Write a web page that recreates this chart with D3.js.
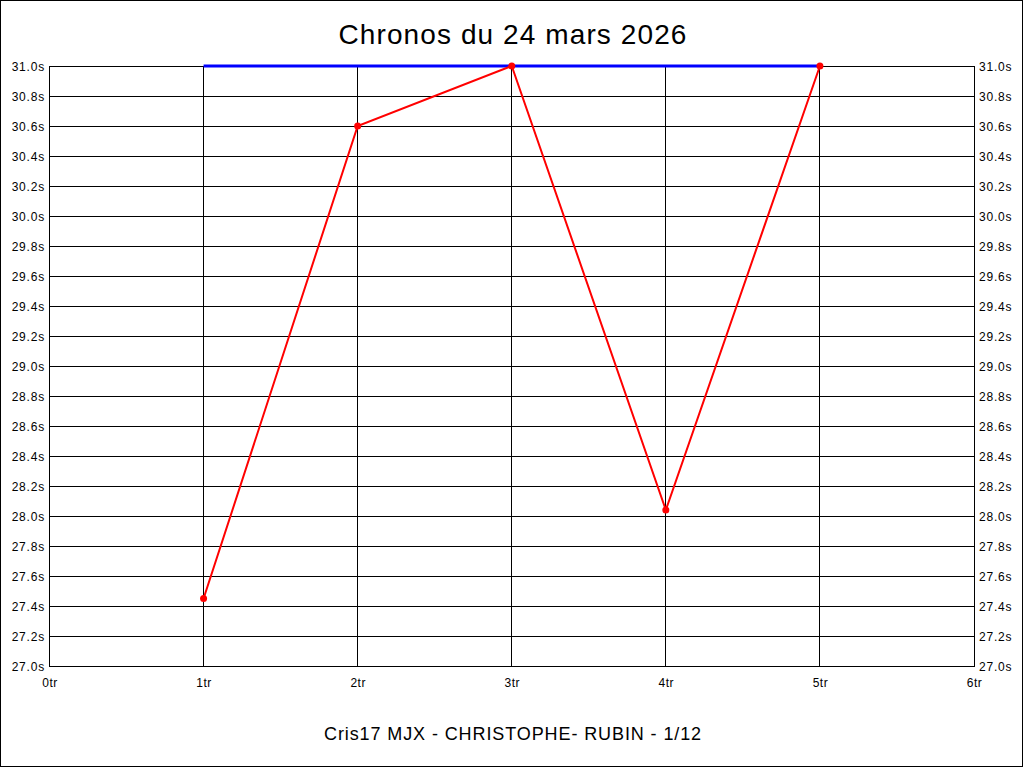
<!DOCTYPE html>
<html><head><meta charset="utf-8">
<script src="https://cdn.jsdelivr.net/npm/d3@7"></script>
<style>body{margin:0;background:#fff}svg{display:block}text{font-family:"Liberation Sans",Arial,sans-serif}</style>
</head><body>
<script>
const title = "Chronos du 24 mars 2026";
const footer = "Cris17 MJX - CHRISTOPHE- RUBIN - 1/12";
const laps = [1, 2, 3, 4, 5];
const times = [27.45, 30.6, 31.0, 28.04, 31.0];
const bestLine = [{lap:1, t:31.0}, {lap:5, t:31.0}];
const xTicks = [0,1,2,3,4,5,6];
const yTicks = d3.range(0, 21).map(i => +(27 + i*0.2).toFixed(1));

const W = 1024, H = 768;
const svg = d3.select("body").append("svg").attr("width", W).attr("height", H);
svg.append("rect").attr("x",0.5).attr("y",0.5).attr("width",1022).attr("height",766)
  .attr("fill","#fff").attr("stroke","#000");

const x = d3.scaleLinear().domain([0,6]).range([49.5, 974]);
const y = d3.scaleLinear().domain([27,31]).range([666, 66]);

const g = svg.append("g");
g.selectAll(".hg").data(yTicks).join("line")
  .attr("x1", x(0)).attr("x2", x(6))
  .attr("y1", d => Math.round(y(d))+0.5).attr("y2", d => Math.round(y(d))+0.5)
  .attr("stroke","#000").attr("stroke-width",1);
g.selectAll(".vg").data(xTicks).join("line")
  .attr("x1", d => Math.floor(x(d))+0.5).attr("x2", d => Math.floor(x(d))+0.5)
  .attr("y1", y(31)).attr("y2", y(27)+1)
  .attr("stroke","#000").attr("stroke-width",1);

const axL = d3.axisLeft(y).tickValues(yTicks).tickSize(0).tickPadding(4).tickFormat(d => d.toFixed(1)+"s");
const axR = d3.axisRight(y).tickValues(yTicks).tickSize(0).tickPadding(5).tickFormat(d => d.toFixed(1)+"s");
const axB = d3.axisBottom(x).tickValues(xTicks).tickSize(0).tickPadding(12).tickFormat(d => d+"tr");
[[axL, `translate(49,1)`, 0.8],[axR, `translate(974,1)`, 0.8],[axB, `translate(0,666)`, 0.5]].forEach(([a,t,ls]) => {
  const s = svg.append("g").attr("transform", t).call(a);
  s.select(".domain").remove();
  s.selectAll("text").attr("font-size", 12).attr("fill","#000").attr("letter-spacing", ls)
   .style("font-family",'"Liberation Sans",Arial,sans-serif');
});

svg.append("path").datum(bestLine)
  .attr("d", d3.line().x(d => x(d.lap)).y(d => y(d.t)))
  .attr("stroke", "#0000ff").attr("stroke-width", 3).attr("fill","none");

const pts = laps.map((l,i) => ({lap:l, t:times[i]}));
svg.append("path").datum(pts)
  .attr("d", d3.line().x(d => x(d.lap)).y(d => y(d.t)))
  .attr("stroke", "#ff0000").attr("stroke-width", 2).attr("fill","none");
svg.selectAll(".pt").data(pts).join("circle")
  .attr("cx", d => x(d.lap)).attr("cy", d => y(d.t)).attr("r", 3.5).attr("fill","#ff0000");

svg.append("text").attr("x", 513).attr("y", 44).attr("text-anchor","middle")
  .attr("font-size", 28).attr("letter-spacing", 1.1).text(title);
svg.append("text").attr("x", 513).attr("y", 740).attr("text-anchor","middle")
  .attr("font-size", 18).attr("letter-spacing", 0.9).text(footer);
</script>
</body></html>
